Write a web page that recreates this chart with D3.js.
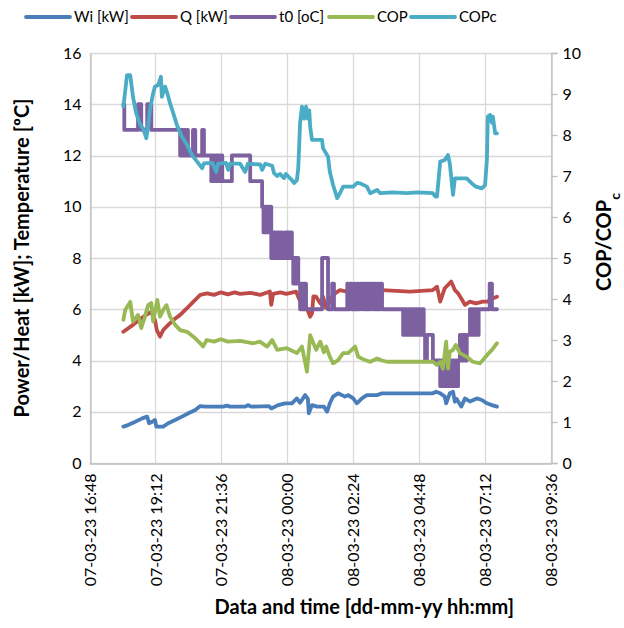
<!DOCTYPE html>
<html lang="en">
<head>
<meta charset="UTF-8">
<title>Heat pump log</title>
<style>
  body { margin: 0; background: #fff; }
  text { font-family: Lato, "Open Sans", sans-serif; fill: #000; }
  .tick-label { font-size: 16px; }
  .axis-title { font-size: 20px; font-weight: bold; }
  .legend-label { font-size: 15px; }
</style>
</head>
<body>
<svg id="chart" width="624" height="628"></svg>
<script src="https://d3js.org/d3.v7.min.js"></script>
<script>
// series: [time hh:mm, value]; times from 12:00 on are 07-03-23, earlier ones 08-03-23
const wi = [["18:02",1.42],["18:12",1.48],["18:28",1.61],["18:43",1.74],["18:54",1.81],["18:58",1.55],["19:05",1.61],["19:11",1.68],["19:14",1.42],["19:29",1.42],["19:40",1.55],["19:55",1.68],["20:10",1.81],["20:24",1.94],["20:39",2.07],["20:50",2.22],["21:01",2.2],["21:40",2.2],["21:48",2.24],["21:55",2.2],["22:28",2.2],["22:34",2.26],["22:41",2.2],["23:20",2.22],["23:25",2.13],["23:40",2.26],["23:55",2.33],["00:10",2.33],["00:21",2.52],["00:28",2.35],["00:39",2.65],["00:45",2.5],["00:47",1.94],["00:54",2.26],["01:05",2.2],["01:20",2.2],["01:27",2.0],["01:33",2.33],["01:40",2.59],["01:51",2.72],["02:06",2.59],["02:13",2.65],["02:24",2.52],["02:32",2.33],["02:43",2.52],["02:54",2.65],["03:16",2.65],["03:27",2.72],["05:18",2.72],["05:25",2.78],["05:34",2.72],["05:44",2.59],["05:47",2.33],["05:55",2.72],["06:02",2.78],["06:06",2.39],["06:10",2.5],["06:20",2.2],["06:28",2.52],["06:39",2.4],["06:54",2.52],["07:05",2.46],["07:16",2.33],["07:27",2.26],["07:38",2.2]];

const q = [["18:02",5.12],["18:23",5.39],["18:41",5.65],["18:52",5.78],["19:03",5.9],["19:11",5.58],["19:15",5.19],["19:22",4.93],["19:29",5.19],["19:40",5.39],["19:51",5.58],["20:06",5.78],["20:21",6.04],["20:35",6.3],["20:50",6.56],["21:05",6.62],["21:20",6.56],["21:35",6.66],["21:50",6.58],["22:05",6.66],["22:17",6.6],["22:40",6.64],["23:01",6.56],["23:22",6.69],["23:25",6.17],["23:29",6.6],["23:45",6.66],["23:58",6.6],["00:19",6.69],["00:30",6.23],["00:39",6.2],["00:50",5.71],["00:54",5.84],["00:57",6.5],["01:03",6.49],["01:12",6.23],["01:18",6.5],["01:25",6.04],["01:40",6.56],["01:55",6.75],["02:10",6.69],["02:32",6.75],["03:27",6.75],["04:28",6.69],["05:18",6.75],["05:27",6.88],["05:34",6.3],["05:44",6.82],["05:58",7.08],["06:06",6.75],["06:13",6.62],["06:22",6.36],["06:28",6.17],["06:39",6.3],["06:52",6.23],["07:07",6.3],["07:18",6.3],["07:25",6.4],["07:38",6.49]];

const t0 = [["18:02",14],["18:04",13],["18:34",14],["18:41",13],["18:54",14],["19:03",13],
  ["20:06",12],["20:08",13],["20:10",12],["20:12",13],["20:15",12],["20:17",13],["20:19",12],["20:21",13],["20:23",12],
  ["20:34",13],["20:39",12],["20:54",13],["20:58",12],
  ["21:14",11],["21:16",12],["21:18",11],["21:20",12],["21:22",11],["21:25",12],
  ["21:29",11],["21:31",12],["21:33",11],["21:35",12],["21:38",11],["21:59",12],["22:39",11],
  ["23:05",10],["23:08",9],["23:11",10],["23:14",9],["23:17",10],["23:20",9],["23:23",10],["23:25",8],["23:27",9],["23:29",8],["23:31",9],["23:33",8],["23:36",9],["23:38",8],["23:40",9],["23:42",8],["23:46",9],["23:49",8],
  ["23:55",9],["23:57",8],["23:59",9],["00:02",8],["00:04",9],["00:06",8],["00:08",9],
  ["00:10",8],["00:13",7],["00:15",8],["00:19",7],["00:21",8],["00:24",7],
  ["00:28",6],["00:30",7],["00:32",6],["00:34",7],["00:37",6],["00:39",7],["00:41",6],
  ["01:16",8],["01:29",6],["01:38",7],["01:42",6],
  ["02:11",7],["02:13",6],["02:17",7],["02:21",6],["02:26",7],["02:28",6],["02:32",7],["02:35",6],["02:39",7],["02:43",6],["02:46",7],["02:50",6],["02:54",7],["02:57",6],["03:01",7],["03:05",6],["03:08",7],["03:12",6],["03:16",7],["03:19",6],["03:23",7],["03:27",6],
  ["04:13",5],["04:17",6],["04:20",5],["04:24",6],["04:28",5],["04:32",6],["04:35",5],["04:39",6],["04:43",5],["04:47",6],["04:50",5],["04:54",6],["04:58",5],
  ["05:01",4],["05:05",5],["05:18",4],
  ["05:34",3],["05:38",4],["05:42",3],["05:46",4],["05:49",3],["05:53",4],["05:57",3],["06:00",4],["06:04",3],["06:08",4],["06:11",3],["06:13",4],
  ["06:17",5],["06:20",4],["06:24",5],["06:28",4],["06:32",5],
  ["06:39",6],["06:42",5],["06:45",6],["06:48",5],["06:52",6],["06:55",5],["06:58",6],
  ["07:22",7],["07:27",6],["07:38",6]];

const cop = [["18:02",3.49],["18:06",3.73],["18:17",3.93],["18:23",3.45],["18:34",3.61],["18:41",3.29],["18:48",3.53],["18:56",3.85],["19:03",3.9],["19:07",3.45],["19:16",3.98],["19:22",3.57],["19:29",3.73],["19:36",3.85],["19:44",3.57],["19:55",3.37],["20:06",3.24],["20:21",3.2],["20:35",3.08],["20:50",2.92],["20:56",2.84],["21:04",3.0],["21:20",2.96],["21:35",3.02],["21:50",2.96],["22:17",2.98],["22:46",2.92],["23:00",2.96],["23:16",2.84],["23:27",3.0],["23:38",2.76],["23:59",2.8],["00:21",2.68],["00:32",2.84],["00:43",2.23],["00:50",3.12],["00:57",2.92],["01:03",2.76],["01:12",2.96],["01:20",2.7],["01:25",2.84],["01:33",2.59],["01:40",2.43],["01:51",2.51],["02:02",2.68],["02:13",2.68],["02:28",2.84],["02:35",2.59],["02:50",2.51],["03:01",2.47],["03:16",2.55],["03:27",2.5],["03:38",2.47],["05:18",2.47],["05:27",2.39],["05:34",2.47],["05:40",2.3],["05:47",2.96],["05:51",2.3],["05:55",2.71],["06:02",2.76],["06:08",2.88],["06:17",2.68],["06:32",2.59],["06:45",2.47],["07:01",2.43],["07:16",2.63],["07:27",2.76],["07:38",2.92]];

const copc = [["18:02",8.69],["18:10",9.46],["18:17",9.46],["18:23",8.93],["18:30",8.53],["18:39",8.24],["18:45",8.16],["18:52",7.92],["18:56",8.2],["19:00",8.61],["19:07",9.02],["19:11",9.18],["19:18",9.22],["19:24",9.42],["19:26",8.93],["19:33",9.18],["19:38",9.02],["19:44",8.77],["19:51",8.53],["19:59",8.24],["20:10",7.96],["20:21",7.76],["20:32",7.51],["20:43",7.35],["20:54",7.19],["20:58",7.31],["21:16",7.32],["21:25",7.1],["21:29",7.3],["21:46",7.32],["21:51",7.15],["21:55",7.3],["22:17",7.3],["22:28",7.1],["22:34",7.3],["23:01",7.28],["23:05",7.15],["23:12",7.3],["23:27",7.25],["23:31",7.07],["23:38",7.0],["23:44",7.05],["23:53",6.95],["23:57",7.05],["00:10",6.9],["00:15",6.83],["00:21",6.9],["00:24",7.2],["00:28",8.3],["00:32",8.69],["00:37",8.4],["00:41",8.69],["00:45",8.4],["00:48",8.6],["00:50",8.2],["00:54",7.88],["01:16",7.88],["01:18",7.68],["01:29",7.47],["01:33",7.1],["01:40",6.78],["01:49",6.46],["01:55",6.58],["02:02",6.74],["02:24",6.74],["02:32",6.83],["02:39",6.82],["02:54",6.74],["03:01",6.58],["03:16",6.66],["03:23",6.58],["03:50",6.6],["04:20",6.58],["04:45",6.6],["05:18",6.58],["05:23",6.5],["05:27",6.5],["05:34",7.35],["05:44",7.39],["05:51",7.51],["05:55",7.3],["05:58",6.98],["06:02",6.54],["06:06",6.94],["06:32",6.94],["06:43",6.82],["06:52",6.74],["07:05",6.7],["07:12",6.78],["07:16",7.4],["07:18",8.45],["07:23",8.49],["07:27",8.3],["07:29",8.45],["07:34",8.04],["07:38",8.04]];

const seriesNames = ["Wi [kW]", "Q [kW]", "t0 [oC]", "COP", "COPc"];
const seriesColors = ["#4A7EBB", "#BE4B48", "#7D60A0", "#98B954", "#4BACC6"];
const xTickLabels = ["07-03-23 16:48", "07-03-23 19:12", "07-03-23 21:36", "08-03-23 00:00",
                     "08-03-23 02:24", "08-03-23 04:48", "08-03-23 07:12", "08-03-23 09:36"];
const leftTicks = [0, 2, 4, 6, 8, 10, 12, 14, 16];
const rightTicks = [0, 1, 2, 3, 4, 5, 6, 7, 8, 9, 10];

const width = 624, height = 628;
const plot = { left: 89.5, right: 551, top: 53, bottom: 463 };

const parseFull = d3.timeParse("%d-%m-%y %H:%M");
// hh:mm -> date (afternoon/evening on 7 March, night/morning on 8 March)
function at(hm) {
    const h = +hm.slice(0, 2);
    return parseFull((h >= 12 ? "07-03-23 " : "08-03-23 ") + hm);
}

const xTicks = xTickLabels.map(parseFull);
const x = d3.scaleTime()
    .domain([xTicks[0], xTicks[xTicks.length - 1]])
    .range([plot.left, plot.right]);
const yLeft = d3.scaleLinear().domain([0, 16]).range([plot.bottom, plot.top]);
const yRight = d3.scaleLinear().domain([0, 10]).range([plot.bottom, plot.top]);

const svg = d3.select("#chart");
svg.append("rect").attr("width", width).attr("height", height).attr("fill", "#fff");

// gridlines
svg.append("g").selectAll("line").data(leftTicks).join("line")
    .attr("x1", plot.left).attr("x2", plot.right)
    .attr("y1", d => Math.round(yLeft(d)) + 0.5).attr("y2", d => Math.round(yLeft(d)) + 0.5)
    .attr("stroke", "#D9D9D9").attr("stroke-width", 1.3);
svg.append("g").selectAll("line").data(xTicks).join("line")
    .attr("x1", d => Math.round(x(d)) + 0.5).attr("x2", d => Math.round(x(d)) + 0.5)
    .attr("y1", plot.top).attr("y2", plot.bottom)
    .attr("stroke", "#D9D9D9").attr("stroke-width", 1.3);

// axes
const leftAxis = svg.append("g")
    .attr("transform", `translate(${Math.round(plot.left) + 0.5},0)`)
    .call(d3.axisLeft(yLeft).tickValues(leftTicks).tickSize(0).tickPadding(9));
const rightAxis = svg.append("g")
    .attr("transform", `translate(${Math.round(plot.right) + 0.5},0)`)
    .call(d3.axisRight(yRight).tickValues(rightTicks).tickSize(6).tickPadding(5));
const bottomAxis = svg.append("g")
    .attr("transform", `translate(0,${plot.bottom + 0.5})`)
    .call(d3.axisBottom(x).tickValues(xTicks).tickSize(0).tickFormat(d3.timeFormat("%d-%m-%y %H:%M")));

[leftAxis, rightAxis, bottomAxis].forEach(g => {
    g.select(".domain").attr("stroke", "#BFBFBF").attr("stroke-width", 1.3);
    g.selectAll(".tick line").attr("stroke", "#BFBFBF").attr("stroke-width", 1.3);
    g.selectAll(".tick text").attr("class", "tick-label").attr("fill", "#000");
});
bottomAxis.selectAll(".tick text")
    .attr("transform", "rotate(-90)")
    .attr("text-anchor", "end")
    .attr("x", -10).attr("y", 0).attr("dy", "0.35em");

// series lines
const series = [
    { data: wi, y: yLeft, curve: d3.curveLinear },
    { data: q, y: yLeft, curve: d3.curveLinear },
    { data: t0, y: yLeft, curve: d3.curveStepAfter },
    { data: cop, y: yRight, curve: d3.curveLinear },
    { data: copc, y: yRight, curve: d3.curveLinear }
];
series.forEach((s, i) => {
    const line = d3.line()
        .x(d => x(at(d[0])))
        .y(d => s.y(d[1]))
        .curve(s.curve);
    svg.append("path")
        .datum(s.data)
        .attr("d", line)
        .attr("fill", "none")
        .attr("stroke", seriesColors[i])
        .attr("stroke-width", 3.8)
        .attr("stroke-linejoin", "round")
        .attr("stroke-linecap", "round");
});

// legend
const legendX = [26, 132, 231, 329, 411];
const legend = svg.append("g");
seriesNames.forEach((name, i) => {
    legend.append("line")
        .attr("x1", legendX[i]).attr("x2", legendX[i] + 44)
        .attr("y1", 17).attr("y2", 17)
        .attr("stroke", seriesColors[i]).attr("stroke-width", 3.8)
        .attr("stroke-linecap", "round");
    legend.append("text")
        .attr("class", "legend-label")
        .attr("x", legendX[i] + 48).attr("y", 17).attr("dy", "0.35em")
        .text(name);
});

// axis titles
svg.append("text")
    .attr("class", "axis-title")
    .attr("transform", `translate(29,${(plot.top + plot.bottom) / 2}) rotate(-90)`)
    .attr("text-anchor", "middle")
    .text("Power/Heat [kW]; Temperature [ºC]");

const rightTitle = svg.append("text")
    .attr("class", "axis-title")
    .attr("transform", "translate(611,242) rotate(-90)")
    .attr("text-anchor", "middle");
rightTitle.append("tspan").text("COP/COP");
rightTitle.append("tspan").attr("baseline-shift", "sub").attr("font-size", "14px").text("c");

svg.append("text")
    .attr("class", "axis-title")
    .attr("x", (plot.left + plot.right) / 2 + 44)
    .attr("y", 614)
    .attr("text-anchor", "middle")
    .text("Data and time [dd-mm-yy hh:mm]");
</script>
</body>
</html>
